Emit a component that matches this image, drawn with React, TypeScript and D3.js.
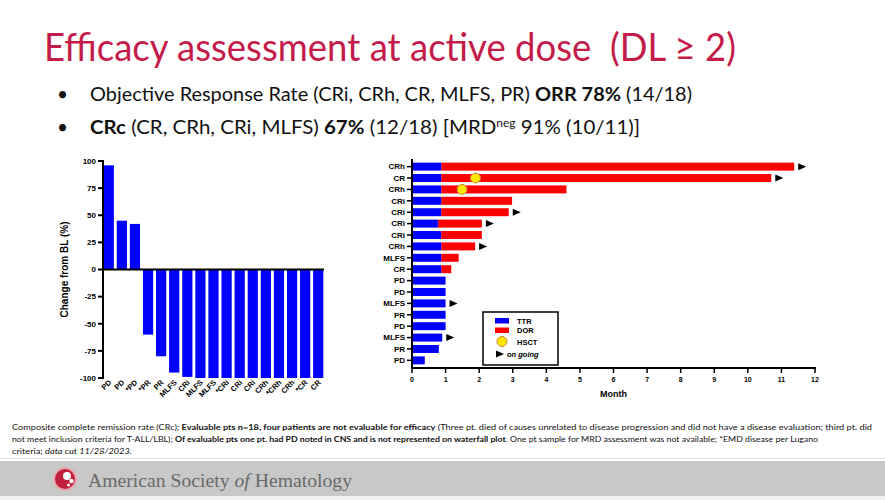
import React from "react";
import * as d3 from "d3";

const wfLabels = ["PD", "PD", "*PD", "*PR", "PR", "MLFS", "CRi", "MLFS", "MLFS", "*CRi", "CRi", "CRi", "CRh", "*CRh", "CRh", "*CR", "CR"];
const wfValues = [96, 45, 42, -60, -80, -95, -99, -100, -100, -100, -100, -100, -100, -100, -100, -100, -100];
const wfTicks = [100, 75, 50, 25, 0, -25, -50, -75, -100];

const swLabels = ["CRh", "CR", "CRh", "CRi", "CRi", "CRi", "CRi", "CRh", "MLFS", "CR", "PD", "PD", "MLFS", "PR", "PD", "MLFS", "PR", "PD"];
const swTTR = [0.87, 0.87, 0.87, 0.87, 0.87, 0.77, 0.87, 0.87, 0.87, 0.87, 1.0, 1.0, 1.0, 1.0, 1.0, 0.9, 0.8, 0.38];
const swEnd = [11.38, 10.7, 4.6, 2.98, 2.88, 2.08, 2.08, 1.88, 1.39, 1.17, 0, 0, 0, 0, 0, 0, 0, 0];
const swOngoing = [1, 1, 0, 0, 1, 1, 0, 1, 0, 0, 0, 0, 1, 0, 0, 1, 0, 0];
const swHSCT = [0, 1.89, 1.49, 0, 0, 0, 0, 0, 0, 0, 0, 0, 0, 0, 0, 0, 0, 0];
const swTicks = d3.range(0, 13);

const BLUE = "#0000FF";
const RED = "#FF0000";
const CHART_FONT = "'Liberation Sans', Arial, sans-serif";
const TEXT_FONT = "Lato, 'Open Sans', sans-serif";

function octagon(cx: number, cy: number, r: number) {
  const pts = d3.range(8).map((i) => {
    const a = (Math.PI / 8) + (i * Math.PI) / 4;
    return [cx + r * Math.cos(a), cy + r * Math.sin(a)].join(",");
  });
  return pts.join(" ");
}

function arrow(x: number, y: number) {
  return `${x},${y - 3.5} ${x + 8},${y} ${x},${y + 3.5}`;
}

export default function App() {
  const wy = d3.scaleLinear().domain([-100, 100]).range([378, 161]);
  const wx = d3.scaleBand().domain(wfLabels.map((_, i) => String(i))).range([103, 324]).paddingInner(0.22).paddingOuter(0.05);

  const sx = d3.scaleLinear().domain([0, 12]).range([412, 815]);
  const sy = d3.scaleBand().domain(swLabels.map((_, i) => String(i))).range([161.5, 365.5]).paddingInner(0.3).paddingOuter(0.1);

  return (
    <svg width={885} height={500} style={{ position: "absolute", left: 0, top: 0, background: "#fff" }}>
      <rect x={0} y={0} width={885} height={500} fill="#fff" />
      <text x={44} y={61} fill="#C41C4A" fontFamily={TEXT_FONT} fontSize={38} textLength={692} lengthAdjust="spacingAndGlyphs">
        {"Efficacy assessment at active dose \u00A0(DL ≥ 2)"}
      </text>
      <g fontFamily={TEXT_FONT} fontSize={19} fill="#111">
        <text x={57} y={101}>•</text>
        <text x={90} y={101} textLength={602} lengthAdjust="spacingAndGlyphs">
          Objective Response Rate (CRi, CRh, CR, MLFS, PR) <tspan fontWeight="bold">ORR 78%</tspan> (14/18)
        </text>
        <text x={57} y={134}>•</text>
        <text x={90} y={134} textLength={550} lengthAdjust="spacingAndGlyphs">
          <tspan fontWeight="bold">CRc</tspan> (CR, CRh, CRi, MLFS) <tspan fontWeight="bold">67%</tspan> (12/18) [MRD<tspan fontSize={11} dy={-7}>neg</tspan><tspan dy={7}> 91% (10/11)]</tspan>
        </text>
      </g>

      <g fontFamily={CHART_FONT} fontWeight="bold">
        {wfValues.map((v, i) => (
          <rect key={i} x={wx(String(i))} width={wx.bandwidth()} y={Math.min(wy(v), wy(0))} height={Math.abs(wy(v) - wy(0))} fill={BLUE} />
        ))}
        <line x1={103} x2={103} y1={wy(100) - 1} y2={wy(-100) + 1} stroke="#000" strokeWidth={2} />
        <line x1={103} x2={324} y1={wy(0)} y2={wy(0)} stroke="#000" strokeWidth={2} />
        {wfTicks.map((t) => (
          <g key={t}>
            <line x1={98} x2={103} y1={wy(t)} y2={wy(t)} stroke="#000" strokeWidth={2} />
            <text x={96} y={wy(t) + 2.8} fontSize={8} textAnchor="end">{t}</text>
          </g>
        ))}
        <text transform={`translate(68,${wy(0)}) rotate(-90)`} fontSize={10} textAnchor="middle">Change from BL (%)</text>
        {wfLabels.map((l, i) => {
          const cx = (wx(String(i)) as number) + wx.bandwidth() / 2;
          return (
            <text key={i} transform={`translate(${cx + 3},${383}) rotate(-45)`} fontSize={7.5} textAnchor="end">{l}</text>
          );
        })}
      </g>

      <g fontFamily={CHART_FONT} fontWeight="bold">
        {swLabels.map((l, i) => {
          const y0 = sy(String(i)) as number;
          const h = sy.bandwidth();
          const cy = y0 + h / 2;
          const end = Math.max(swEnd[i], swTTR[i]);
          return (
            <g key={i}>
              {swEnd[i] > 0 && <rect x={sx(swTTR[i])} width={sx(swEnd[i]) - sx(swTTR[i])} y={y0} height={h} fill={RED} />}
              <rect x={sx(0)} width={sx(swTTR[i]) - sx(0)} y={y0} height={h} fill={BLUE} />
              {swHSCT[i] > 0 && <polygon points={octagon(sx(swHSCT[i]), cy, 5.2)} fill="#FFE800" stroke="#C8843C" strokeWidth={1} />}
              {swOngoing[i] === 1 && <polygon points={arrow(sx(end) + 4, cy)} fill="#000" />}
              <line x1={407} x2={412} y1={cy} y2={cy} stroke="#000" strokeWidth={1.5} />
              <text x={405} y={cy + 2.8} fontSize={8} textAnchor="end">{l}</text>
            </g>
          );
        })}
        <line x1={412} x2={412} y1={159} y2={369} stroke="#000" strokeWidth={2} />
        <line x1={411} x2={816} y1={368} y2={368} stroke="#000" strokeWidth={2} />
        {swTicks.map((t) => (
          <g key={t}>
            <line x1={sx(t)} x2={sx(t)} y1={368} y2={373} stroke="#000" strokeWidth={1.5} />
            <text x={sx(t)} y={382} fontSize={7} textAnchor="middle">{t}</text>
          </g>
        ))}
        <text x={sx(6)} y={397} fontSize={9} textAnchor="middle">Month</text>

        <rect x={483} y={312} width={75} height={53} fill="#fff" stroke="#000" strokeWidth={1.5} />
        <rect x={495} y={318} width={14} height={5.5} fill={BLUE} />
        <text x={517} y={323.5} fontSize={7.5}>TTR</text>
        <rect x={495} y={327.5} width={14} height={5.5} fill={RED} />
        <text x={517} y={333} fontSize={7.5}>DOR</text>
        <polygon points={octagon(502, 341.5, 5.2)} fill="#FFE800" stroke="#C8843C" strokeWidth={1} />
        <text x={517} y={344.5} fontSize={7.5}>HSCT</text>
        <polygon points={arrow(496, 354)} fill="#000" />
        <text x={507} y={356.5} fontSize={7.5} fontStyle="italic">on going</text>
      </g>

      <g fontFamily={TEXT_FONT} fontSize={8} fill="#111">
        <text x={12} y={430} textLength={860} lengthAdjust="spacingAndGlyphs">
          Composite complete remission rate (CRc); <tspan fontWeight="bold">Evaluable pts n=18, four patients are not evaluable for efficacy</tspan> (Three pt. died of causes unrelated to disease progression and did not have a disease evaluation; third pt. did
        </text>
        <text x={12} y={442} textLength={806} lengthAdjust="spacingAndGlyphs">
          not meet inclusion criteria for T-ALL/LBL); <tspan fontWeight="bold">Of evaluable pts one pt. had PD noted in CNS and is not represented on waterfall plot</tspan>. One pt sample for MRD assessment was not available; *EMD disease per Lugano
        </text>
        <text x={12} y={454} textLength={120} lengthAdjust="spacingAndGlyphs">
          criteria; <tspan fontStyle="italic">data cut 11/28/2023.</tspan>
        </text>
      </g>

      <line x1={0} x2={885} y1={458.5} y2={458.5} stroke="#E2E2E2" strokeWidth={1} />
      <rect x={0} y={461} width={885} height={35} fill="#C8C8C8" />
      <rect x={0} y={496} width={885} height={4} fill="#F0F0F0" />
      <g>
        <circle cx={65} cy={479} r={12} fill="#E8A8B0" />
        <circle cx={65} cy={479} r={10} fill="#C0203C" />
        <circle cx={67} cy={476} r={4} fill="#fff" />
        <circle cx={71.5} cy={481} r={2.2} fill="#fff" />
        <circle cx={68.5} cy={485} r={1.5} fill="#fff" />
      </g>
      <text x={88} y={487} fontFamily="'Liberation Serif', 'DejaVu Serif', serif" fontSize={19} fill="#6A6A6A" textLength={264} lengthAdjust="spacingAndGlyphs">
        American Society <tspan fontStyle="italic">of</tspan> Hematology
      </text>
    </svg>
  );
}
